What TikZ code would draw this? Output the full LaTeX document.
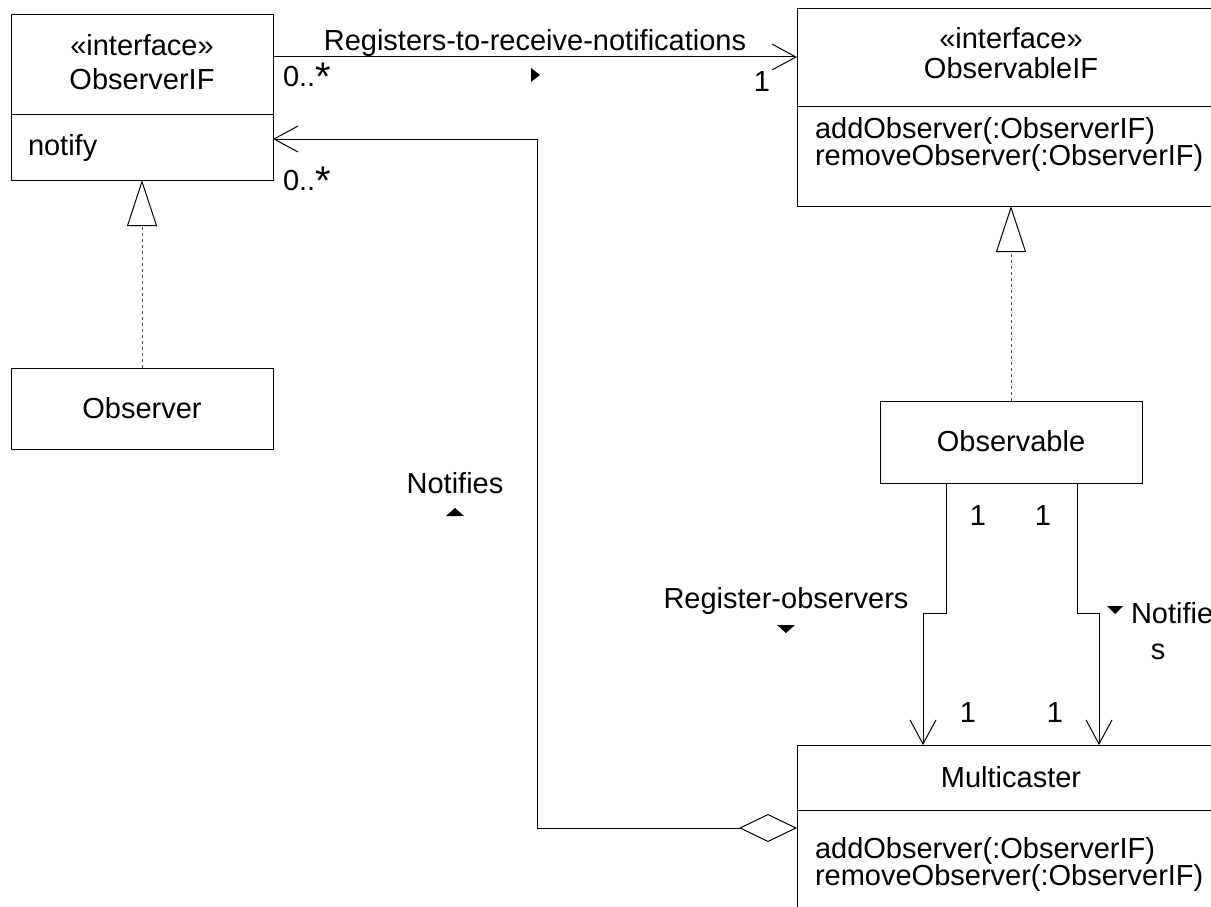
\documentclass[tikz,border=0pt]{standalone}
\usepackage{fontspec}
\setmainfont{Liberation Sans}
\usetikzlibrary{arrows.meta}

% multiplicity star, set larger than the body font
\newcommand{\manystar}{\raisebox{-4pt}{\fontsize{40}{40}\selectfont *}}

\tikzset{
  classbox/.style={draw, line width=1pt, inner sep=0pt, outer sep=0pt, anchor=north west},
  txt/.style={inner sep=0pt, outer sep=0pt, font=\fontsize{29}{33}\selectfont, text=black},
  conn/.style={draw, line width=1pt},
  assoc/.style={conn, -{Straight Barb[length=24pt, width=26pt, line width=1pt]}},
  realize/.style={conn, draw=black!70, dash pattern=on 3pt off 3pt,
    -{Triangle[open, length=46pt, width=30pt, line width=1pt, color=black]}},
  aggr/.style={conn, {Diamond[open, length=58pt, width=28pt, line width=1pt]}-{Straight Barb[length=24pt, width=26pt, line width=1pt]}},
  dirmark/.style={fill=black},
}

\begin{document}
\begin{tikzpicture}[x=1pt, y=-1pt]
  \useasboundingbox (0,0) rectangle (1211,907);
  \clip (0,0) rectangle (1211,907);

  % ---- class boxes ----
  \node[classbox, minimum width=262pt, minimum height=165pt] (oif)  at (11,15)  {};
  \node[classbox, minimum width=262pt, minimum height=81pt]  (obs)  at (11,368) {};
  \node[classbox, minimum width=428pt, minimum height=197pt] (oaif) at (797,9)  {};
  \node[classbox, minimum width=262pt, minimum height=82pt]  (obl)  at (880,401) {};
  \node[classbox, minimum width=428pt, minimum height=220pt] (mc)   at (797,745) {};

  % compartment separators
  \draw[line width=1pt] (oif.west |- 0,114) -- (oif.east |- 0,114);
  \draw[line width=1pt] (oaif.west |- 0,107) -- (oaif.east |- 0,107);
  \draw[line width=1pt] (mc.west |- 0,810) -- (mc.east |- 0,810);

  % ---- class texts ----
  \node[txt, anchor=base] (oifst)  at (142,56)  {«interface»};
  \node[txt, anchor=base] (oifnm)  at (142,90)  {ObserverIF};
  \node[txt, anchor=base west] (oifop) at (28,155) {notify};

  \node[txt, anchor=base] (obsnm)  at (142,418) {Observer};

  \node[txt, anchor=base] (oaifst) at (1011,49) {«interface»};
  \node[txt, anchor=base] (oaifnm) at (1011,78) {ObservableIF};
  \node[txt, anchor=base west] (oaifopa) at (815,138) {addObserver(:ObserverIF)};
  \node[txt, anchor=base west] (oaifopb) at (815,165) {removeObserver(:ObserverIF)};

  \node[txt, anchor=base] (oblnm)  at (1011,451) {Observable};

  \node[txt, anchor=base] (mcnm)   at (1011,787) {Multicaster};
  \node[txt, anchor=base west] (mcopa) at (815,858) {addObserver(:ObserverIF)};
  \node[txt, anchor=base west] (mcopb) at (815,885) {removeObserver(:ObserverIF)};

  % ---- connectors ----
  % association ObserverIF -> ObservableIF
  \draw[assoc] (oif.east |- 0,57) -- (oaif.west |- 0,57);
  % realizations
  \draw[realize] (obs.north) -- (oif.south);
  \draw[realize] (obl.north) -- (oaif.south);
  % Multicaster aggregates observers and notifies them
  \coordinate (nbend) at (537,139);
  \draw[aggr] (mc.west |- 0,828) -| (nbend) -- (oif.east |- nbend);
  % Observable -> Multicaster
  \draw[assoc] (obl.south -| 946,0) |- (923,613) -- (mc.north -| 923,0);
  \draw[assoc] (obl.south -| 1077,0) |- (1099,613) -- (mc.north -| 1099,0);

  % ---- association labels ----
  \node[txt, anchor=base] (lreg) at (535,51) {Registers-to-receive-notifications};
  \fill[dirmark, shift={(535,75)}] (-4,-7) -- (-4,7) -- (5,0) -- cycle;
  \node[txt, anchor=base west] (mreg1) at (283,87) {0..\manystar};
  \node[txt, anchor=base] (mreg2) at (762,92) {1};

  \node[txt, anchor=base west] (mnot1) at (283,190) {0..\manystar};
  \node[txt, anchor=base] (lnot) at (455,493) {Notifies};
  \fill[dirmark, shift={(455,512)}] (-9,4) -- (9,4) -- (0,-4) -- cycle;

  \node[txt, anchor=base] (lrob) at (786,608) {Register-observers};
  \fill[dirmark, shift={(786,629)}] (-9,-4) -- (9,-4) -- (0,4) -- cycle;

  \node[txt, anchor=base] (m1a) at (978,525) {1};
  \node[txt, anchor=base] (m1b) at (1043,525) {1};
  \node[txt, anchor=base] (m1c) at (968,722) {1};
  \node[txt, anchor=base] (m1d) at (1055,722) {1};

  \fill[dirmark, shift={(1115,610)}] (-8,-4) -- (8,-4) -- (0,4) -- cycle;
  \node[txt, anchor=base west] (lnotb1) at (1131,623) {Notifie};
  \node[txt, anchor=base] (lnotb2) at (1158,659) {s};
\end{tikzpicture}
\end{document}
